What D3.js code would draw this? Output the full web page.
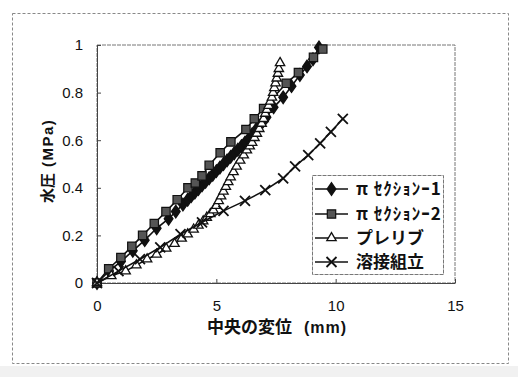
<!DOCTYPE html>
<html>
<head>
<meta charset="utf-8">
<script src="https://cdn.jsdelivr.net/npm/d3@7"></script>
<style>
  body { margin: 0; background: #fff; }
  svg { display: block; }
  text { font-family: "Liberation Sans", Arial, sans-serif; fill: #111; }
  .jp { font-family: "Noto Sans CJK JP", sans-serif; }
</style>
</head>
<body>
<div id="chart"></div>
<script>
// series: [displacement mm, pressure MPa]
const seriesNames = ["π ｾｸｼｮﾝｰ1", "π ｾｸｼｮﾝｰ2", "プレリブ", "溶接組立"];
const section1 = [[0,0],[0.5,0.05],[1.0,0.09],[1.5,0.135],[2.0,0.18],[2.5,0.23],[3.0,0.27],[3.3,0.3],[3.6,0.33],[3.8,0.35],[3.95,0.365],[4.1,0.38],[4.25,0.395],[4.4,0.41],[4.55,0.425],[4.7,0.44],[4.85,0.455],[5.0,0.47],[5.15,0.485],[5.3,0.5],[5.45,0.515],[5.6,0.53],[5.75,0.545],[5.9,0.56],[6.05,0.575],[6.2,0.59],[6.35,0.605],[6.5,0.625],[6.65,0.643],[6.8,0.66],[6.95,0.678],[7.1,0.696],[7.4,0.738],[7.8,0.78],[8.15,0.827],[8.5,0.874],[8.8,0.91],[9.05,0.94],[9.3,0.99]];
const section2 = [[0,0],[0.49,0.06],[1.0,0.107],[1.46,0.154],[1.91,0.2],[2.4,0.25],[2.89,0.3],[3.36,0.35],[3.81,0.4],[4.12,0.42],[4.4,0.45],[4.7,0.495],[5.16,0.547],[5.61,0.593],[6.24,0.645],[6.59,0.69],[6.98,0.733],[7.93,0.839],[8.44,0.884],[9.07,0.948],[9.46,0.983]];
const preRib = [[0,0],[0.6,0.03],[1.2,0.05],[1.65,0.075],[2.1,0.1],[2.5,0.12],[2.9,0.145],[3.25,0.165],[3.55,0.187],[3.8,0.205],[4.05,0.225],[4.25,0.242],[4.45,0.26],[4.6,0.275],[4.75,0.29],[4.88,0.306],[5.0,0.325],[5.1,0.345],[5.2,0.365],[5.3,0.385],[5.4,0.405],[5.5,0.425],[5.6,0.445],[5.72,0.467],[5.85,0.49],[6.0,0.515],[6.15,0.537],[6.28,0.558],[6.4,0.575],[6.5,0.59],[6.6,0.61],[6.7,0.628],[6.8,0.648],[6.9,0.67],[6.98,0.69],[7.05,0.712],[7.12,0.728],[7.19,0.745],[7.26,0.763],[7.33,0.78],[7.38,0.8],[7.43,0.82],[7.48,0.84],[7.53,0.86],[7.58,0.88],[7.62,0.9],[7.67,0.925]];
const welded = [[0,0],[0.9,0.05],[1.8,0.1],[2.65,0.15],[3.5,0.205],[4.4,0.255],[5.3,0.303],[6.2,0.345],[7.05,0.39],[7.8,0.44],[8.3,0.49],[8.85,0.537],[9.35,0.587],[9.8,0.635],[10.3,0.69]];
const xTicks = [0, 5, 10, 15];
const yTicks = [0, 0.2, 0.4, 0.6, 0.8, 1];

const width = 518, height = 377;
const plot = { left: 97, right: 455, top: 45, bottom: 283 };

const svg = d3.select("#chart").append("svg").attr("width", width).attr("height", height);
svg.append("rect").attr("x", 0).attr("y", 366).attr("width", width).attr("height", 11).attr("fill", "#f1f1f1");
svg.append("rect").attr("x", 12.5).attr("y", 13.5).attr("width", 496).attr("height", 350)
  .attr("fill", "#fff").attr("stroke", "#888").attr("stroke-dasharray", "3,2");

const x = d3.scaleLinear().domain([0, 15]).range([plot.left, plot.right]);
const y = d3.scaleLinear().domain([0, 1]).range([plot.bottom, plot.top]);

// plot area border
svg.append("rect").attr("x", plot.left).attr("y", plot.top)
  .attr("width", plot.right - plot.left).attr("height", plot.bottom - plot.top)
  .attr("fill", "none").attr("stroke", "#777").attr("stroke-dasharray", "4,1");

const xAxis = svg.append("g").attr("transform", `translate(0,${plot.bottom})`)
  .call(d3.axisBottom(x).tickValues(xTicks).tickSizeInner(-4).tickSizeOuter(0).tickPadding(17).tickFormat(d3.format("d")));
const yAxis = svg.append("g").attr("transform", `translate(${plot.left},0)`)
  .call(d3.axisLeft(y).tickValues(yTicks).tickSizeInner(-4).tickSizeOuter(0).tickPadding(14).tickFormat(d => d === 0 || d === 1 ? d : d3.format(".1f")(d)));
[xAxis, yAxis].forEach(g => {
  g.select(".domain").attr("stroke", "#444");
  g.selectAll(".tick line").attr("stroke", "#444");
  g.selectAll(".tick text").attr("font-size", 15).attr("fill", "#111");
});

const line = d3.line().x(d => x(d[0])).y(d => y(d[1]));

const symbols = [
  { type: d3.symbolDiamond, size: 45, fill: "#111" },
  { type: d3.symbolSquare, size: 70, fill: "#555" },
  { type: d3.symbolTriangle, size: 38, fill: "#fff" },
  { type: d3.symbolCross, size: 0, fill: "none" }
];
const allSeries = [section1, section2, preRib, welded];

function drawMarker(g, i, cx, cy) {
  const s = symbols[i];
  if (i === 3) {
    const r = 5;
    g.append("path").attr("d", `M${cx - r},${cy - r}L${cx + r},${cy + r}M${cx - r},${cy + r}L${cx + r},${cy - r}`)
      .attr("stroke", "#111").attr("stroke-width", 1.8).attr("fill", "none");
  } else {
    g.append("path").attr("d", d3.symbol().type(s.type).size(s.size)())
      .attr("transform", `translate(${cx},${cy})` + (i === 0 ? " scale(1.2,1)" : ""))
      .attr("fill", s.fill).attr("stroke", "#111").attr("stroke-width", i === 2 ? 1.3 : 1.2);
  }
}

allSeries.forEach((data, i) => {
  const g = svg.append("g");
  g.append("path").datum(data).attr("d", line).attr("fill", "none").attr("stroke", "#111").attr("stroke-width", 1.6);
  data.forEach(d => drawMarker(g, i, x(d[0]), y(d[1])));
});

// axis titles
const xTitle = svg.append("text").attr("x", 207).attr("y", 333).attr("font-weight", "bold");
xTitle.append("tspan").attr("class", "jp").attr("font-size", 17).text("中央の変位");
xTitle.append("tspan").attr("dx", 12).attr("font-size", 16).attr("letter-spacing", 1).text("(mm)");
const yTitle = svg.append("text").attr("transform", "translate(53,203) rotate(-90)").attr("font-weight", "bold");
yTitle.append("tspan").attr("class", "jp").attr("font-size", 15).text("水圧");
yTitle.append("tspan").attr("dx", 6).attr("font-size", 15).attr("letter-spacing", 1.5).text("(MPa)");

// legend
const legend = svg.append("g");
legend.append("rect").attr("x", 312.5).attr("y", 175.5).attr("width", 131).attr("height", 99)
  .attr("fill", "#fff").attr("stroke", "#777").attr("stroke-dasharray", "4,1");
const rowsY = [189, 214, 238, 262];
seriesNames.forEach((name, i) => {
  const ly = rowsY[i];
  legend.append("line").attr("x1", 315).attr("x2", 348).attr("y1", ly).attr("y2", ly)
    .attr("stroke", "#111").attr("stroke-width", 1.6);
  drawMarker(legend, i, 331.5, ly);
  legend.append("text").attr("class", "jp").attr("x", 356).attr("y", ly + 6)
    .attr("font-size", 17).attr("font-weight", "bold")
    .attr("letter-spacing", i < 2 ? 1 : 0).text(name);
});
</script>
</body>
</html>
